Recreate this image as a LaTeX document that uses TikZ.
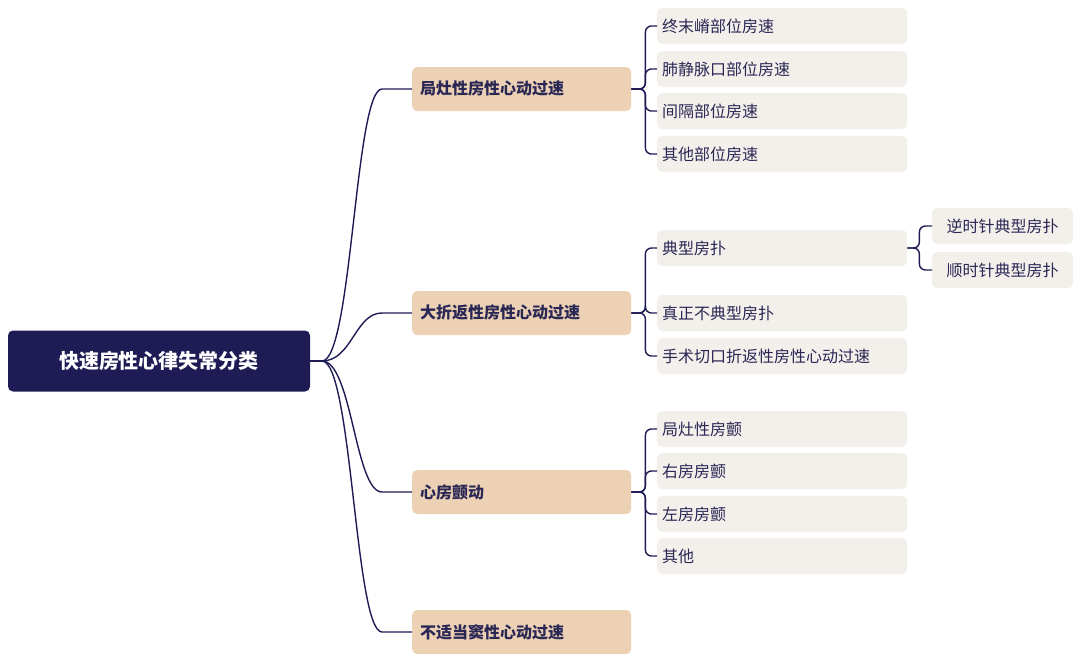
\documentclass[tikz,border=0pt]{standalone}
\usepackage{fontspec}
\newfontfamily\cjk{Noto Sans CJK SC}
\definecolor{navy}{HTML}{1E1B55}
\definecolor{peach}{HTML}{EDD1B5}
\definecolor{leafc}{HTML}{F3EFEB}
\definecolor{txt}{HTML}{2A2755}
\begin{document}
\begin{tikzpicture}[x=1pt,y=-1pt,
  rootbox/.style={fill=navy,rounded corners=5pt,minimum width=302pt,minimum height=61pt,text=white,font=\cjk\bfseries\fontsize{20}{24}\selectfont,inner sep=0pt},
  lonebox/.style={fill=peach,rounded corners=5pt,minimum width=219pt,minimum height=44pt,text=txt,font=\cjk\bfseries\fontsize{16}{20}\selectfont,inner sep=0pt,anchor=west,text width=203pt,align=left},
  leafbox/.style={fill=leafc,rounded corners=5pt,minimum width=250pt,minimum height=36pt,text=txt,font=\cjk\fontsize{16}{20}\selectfont,inner sep=0pt,anchor=west,text width=240pt,align=left},
  l3box/.style={fill=leafc,rounded corners=5pt,minimum width=141pt,minimum height=36pt,text=txt,font=\cjk\fontsize{16}{20}\selectfont,inner sep=0pt,anchor=west},
  link/.style={draw=navy,line width=1.4pt},
  brk/.style={draw=navy,line width=1.4pt,rounded corners=6pt}]
\useasboundingbox (0,0) rectangle (1080,662);
\node[rootbox] (root) at (159,361) {快速房性心律失常分类};
\node[lonebox] (a) at (412,89) {局灶性房性心动过速};
\node[lonebox] (b) at (412,313) {大折返性房性心动过速};
\node[lonebox] (c) at (412,492) {心房颤动};
\node[lonebox] (d) at (412,632) {不适当窦性心动过速};
\node[leafbox] (a1) at (657,26) {终末嵴部位房速};
\node[leafbox] (a2) at (657,69) {肺静脉口部位房速};
\node[leafbox] (a3) at (657,111) {间隔部位房速};
\node[leafbox] (a4) at (657,154) {其他部位房速};
\node[leafbox] (b1) at (657,248) {典型房扑};
\node[leafbox] (b2) at (657,313) {真正不典型房扑};
\node[leafbox] (b3) at (657,356) {手术切口折返性房性心动过速};
\node[leafbox] (c1) at (657,429) {局灶性房颤};
\node[leafbox] (c2) at (657,471) {右房房颤};
\node[leafbox] (c3) at (657,514) {左房房颤};
\node[leafbox] (c4) at (657,556) {其他};
\node[l3box] (e1) at (932,226) {逆时针典型房扑};
\node[l3box] (e2) at (932,270) {顺时针典型房扑};
\coordinate (rs) at (322,361);
\draw[link] (root.east) -- (rs);
\foreach \n in {a,b,c,d}{
  \draw[link] (rs) .. controls (352,361) and (355,0|-\n.west) .. ([xshift=-30pt]\n.west) -- (\n.west);
}
\foreach \p/\l in {a/a1,a/a2,a/a3,a/a4,b/b1,b/b2,b/b3,c/c1,c/c2,c/c3,c/c4}{
  \draw[brk] (\p.east) -- ++(14,0) |- (\l.west);
}
\foreach \l in {e1,e2}{
  \draw[brk] (b1.east) -- ++(12,0) |- (\l.west);
}
\end{tikzpicture}
\end{document}
